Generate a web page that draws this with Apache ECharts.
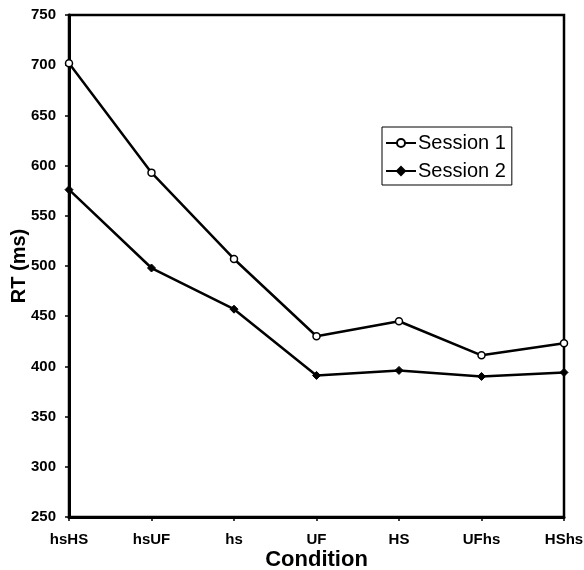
<!DOCTYPE html>
<html>
<head>
<meta charset="utf-8">
<script src="https://cdn.jsdelivr.net/npm/echarts@6/dist/echarts.min.js"></script>
<style>
  html, body { margin: 0; padding: 0; background: #fff; }
  #chart { width: 584px; height: 570px; }
</style>
</head>
<body>
<div id="chart"></div>
<script>
var conditions = ['hsHS', 'hsUF', 'hs', 'UF', 'HS', 'UFhs', 'HShs'];
var session1 = [702, 593, 507, 430, 445, 411, 423];
var session2 = [576, 498, 457, 391, 396, 390, 394];
var yTicks = { min: 250, max: 750, step: 50 };

var font = 'Liberation Sans, Arial, sans-serif';

var opts = {
    backgroundColor: '#fff',
    animation: false,
    grid: {
        left: 69,
        top: 15,
        right: 20,
        bottom: 53,
        outerBoundsMode: 'none',
        containLabel: false,
        show: true,
        borderColor: '#000',
        borderWidth: 2.5
    },
    legend: {
        left: 382,
        top: 127,
        orient: 'vertical',
        padding: [6, 6, 4, 3],
        itemGap: 8,
        itemWidth: 30,
        itemHeight: 10,
        borderColor: '#000',
        borderWidth: 1,
        data: ['Session 1', 'Session 2'],
        textStyle: {
            color: '#000',
            fontFamily: font,
            fontSize: 20,
            padding: [0, 0, 0, -3]
        }
    },
    xAxis: {
        type: 'category',
        data: conditions,
        boundaryGap: false,
        name: 'Condition',
        nameLocation: 'middle',
        nameGap: 32,
        nameMoveOverlap: false,
        nameTextStyle: {
            color: '#000',
            fontFamily: font,
            fontSize: 22,
            fontWeight: 'bold'
        },
        axisLine: { lineStyle: { color: '#000', width: 3 } },
        axisTick: { length: 4, lineStyle: { color: '#000', width: 1.5 } },
        axisLabel: {
            color: '#000',
            fontFamily: font,
            fontSize: 15,
            fontWeight: 'bold',
            margin: 15
        },
        splitLine: { show: false }
    },
    yAxis: {
        type: 'value',
        min: yTicks.min,
        max: yTicks.max,
        interval: yTicks.step,
        name: 'RT (ms)',
        nameLocation: 'middle',
        nameGap: 40,
        nameMoveOverlap: false,
        nameTextStyle: {
            color: '#000',
            fontFamily: font,
            fontSize: 20,
            fontWeight: 'bold'
        },
        axisLine: { show: true, lineStyle: { color: '#000', width: 3 } },
        axisTick: { show: true, length: 4, lineStyle: { color: '#000', width: 1.5 } },
        axisLabel: {
            color: '#000',
            fontFamily: font,
            fontSize: 15,
            fontWeight: 'bold',
            margin: 13
        },
        splitLine: { show: false }
    },
    series: [
        {
            name: 'Session 1',
            type: 'line',
            data: session1,
            symbol: 'circle',
            symbolSize: 7,
            itemStyle: { color: '#fff', borderColor: '#000', borderWidth: 1.5 },
            lineStyle: { color: '#000', width: 2.5 },
            z: 3
        },
        {
            name: 'Session 2',
            type: 'line',
            data: session2,
            symbol: 'diamond',
            symbolSize: 8,
            itemStyle: { color: '#000', borderColor: '#000', borderWidth: 1 },
            lineStyle: { color: '#000', width: 2.5 },
            z: 3
        }
    ]
};

echarts.init(document.getElementById('chart')).setOption(opts);
</script>
</body>
</html>
